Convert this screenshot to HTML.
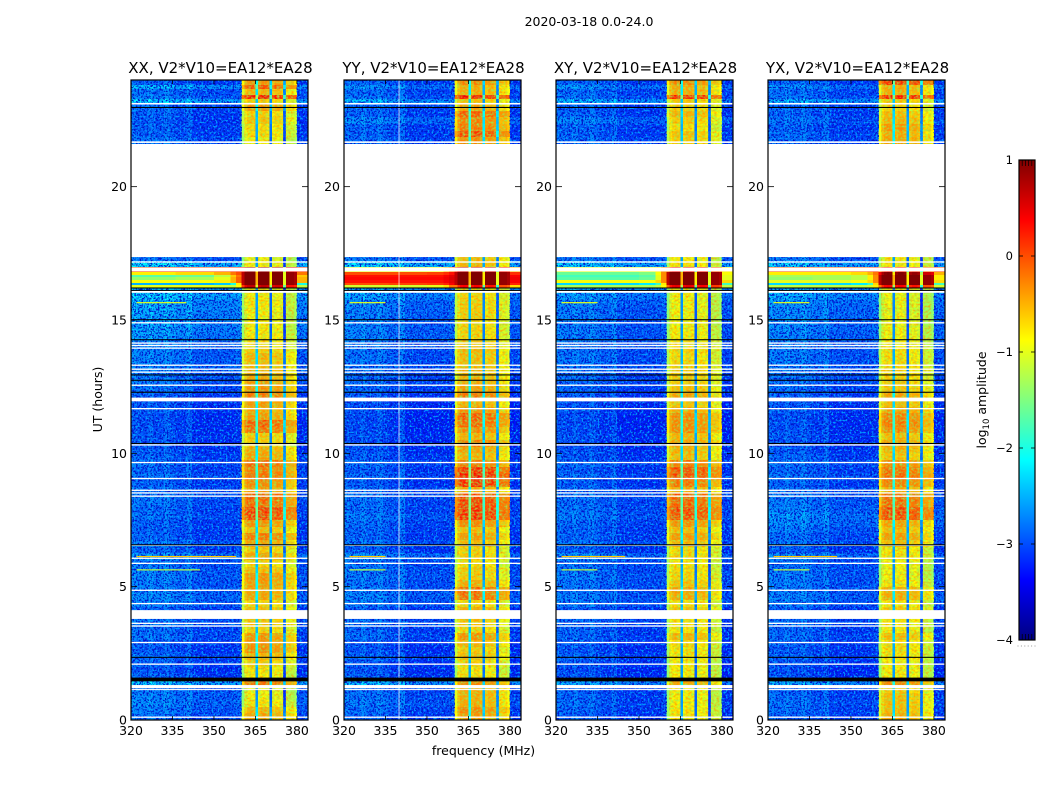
<!DOCTYPE html>
<html>
<head>
<meta charset="utf-8">
<title>2020-03-18 0.0-24.0</title>
<style>
html,body{margin:0;padding:0;background:#fff;}
svg{display:block;}
text{font-family:"DejaVu Sans","Liberation Sans",sans-serif;fill:#000;}
</style>
</head>
<body>
<svg id="chart" xmlns="http://www.w3.org/2000/svg" width="1050" height="800" viewBox="0 0 1050 800">
<defs>
<linearGradient id="jet-gradient" x1="0" y1="1" x2="0" y2="0"></linearGradient>
<filter id="speckle-dark" x="0" y="0" width="100%" height="100%" color-interpolation-filters="sRGB">
<feTurbulence type="fractalNoise" baseFrequency="0.55" numOctaves="2" seed="3"/>
<feColorMatrix values="0 0 0 0 0  0 0 0 0 0.08  0 0 0 0 0.8  7 0 0 0 -3.3"/>
</filter>
<filter id="speckle-light" x="0" y="0" width="100%" height="100%" color-interpolation-filters="sRGB">
<feTurbulence type="fractalNoise" baseFrequency="0.5" numOctaves="2" seed="11"/>
<feColorMatrix values="0 0 0 0 0  0 0 0 0 0.6  0 0 0 0 1  0 7 0 0 -3.8"/>
</filter>
<filter id="speckle-band-orange" x="0" y="0" width="100%" height="100%" color-interpolation-filters="sRGB">
<feTurbulence type="fractalNoise" baseFrequency="0.35 0.5" numOctaves="2" seed="5"/>
<feColorMatrix values="0 0 0 0 1  0 0 0 0 0.55  0 0 0 0 0  1.8 0 0 0 -0.7"/>
</filter>
<filter id="speckle-band-green" x="0" y="0" width="100%" height="100%" color-interpolation-filters="sRGB">
<feTurbulence type="fractalNoise" baseFrequency="0.35 0.5" numOctaves="2" seed="17"/>
<feColorMatrix values="0 0 0 0 0.55  0 0 0 0 1  0 0 0 0 0.35  1.8 0 0 0 -0.75"/>
</filter>
</defs>
<text x="589" y="26" text-anchor="middle" font-size="12.5">2020-03-18 0.0-24.0</text>
<text x="483.5" y="755" text-anchor="middle" font-size="12.5">frequency (MHz)</text>
<text x="0" y="0" text-anchor="middle" font-size="12.5" transform="translate(102,399.5) rotate(-90)">UT (hours)</text>
<g id="panels"></g>
<g id="colorbar"></g>
<text x="0" y="0" text-anchor="middle" font-size="12.5" transform="translate(986,400) rotate(-90)">log<tspan font-size="8.5" dy="3">10</tspan><tspan dy="-3"> amplitude</tspan></text>
</svg>
<script>
const hours = [
0,.25,.5,.75,1,1.25,1.5,1.75,2,2.25,2.5,2.75,3,3.25,3.5,3.75,
4,4.25,4.5,4.75,5,5.25,5.5,5.75,6,6.25,6.5,6.75,7,7.25,7.5,7.75,
8,8.25,8.5,8.75,9,9.25,9.5,9.75,10,10.25,10.5,10.75,11,11.25,11.5,11.75,
12,12.25,12.5,12.75,13,13.25,13.5,13.75,14,14.25,14.5,14.75,15,15.25,15.5,15.75,
16,16.2,16.3,16.4,16.5,16.6,16.7,16.8,17,17.2,
21.6,21.85,22.1,22.35,22.6,22.85,23.1,23.3,23.45,23.65,23.8];

const xxInBand = [
-.45,-.55,-.85,-.95,-1,-.15,-.9,-.85,-.7,-.55,-.3,-.35,-.35,-.75,-.65,-.6,
-.6,-.75,-.45,-.45,-.4,-.35,-.6,-.75,-.45,-.7,-.45,-.2,-.6,-.35,.1,.15,
-.1,-.05,-.4,-.3,-.15,-.2,-.1,-.45,-.5,-.7,-.7,-.15,-.05,-.4,-.5,-.4,
-.2,-.35,-.4,-.5,-.55,-.6,-.55,-.7,-.8,-.85,-.9,-.9,-.95,-.9,-.85,-.9,
-.9,.6,1.2,1.2,1.2,1.2,1.2,.8,-.9,-1,
-.9,-.8,-.8,-.65,-.75,-.4,-.7,.3,-.55,0,-.35];
const yyInBand = [
-.4,-.3,-.5,-.5,-.5,-.3,-.8,-.85,-.75,-.6,-.7,-.55,-.35,-.75,-.65,-.6,
-.5,-.75,-.15,-.1,-.5,-.7,-.7,-.8,-.7,-.75,-.6,-.4,-.6,-.3,.2,.2,
.15,.1,-.5,.2,.3,.2,-.2,-.55,-.45,-.25,-.55,-.3,-.1,-.05,-.35,-.55,
-.2,-.4,-.5,-.55,-.55,-.6,-.6,-.55,-.65,-.75,-.75,-.75,-.7,-.7,-.7,-.75,
-.8,.3,1.2,1.2,1.2,1.2,1.2,.6,-.55,-.6,
-.3,.05,-.2,-.25,-.05,-.45,-.65,.3,-.5,-.5,-.3];
const xyInBand = [
-.85,-.85,-.9,-.9,-.9,-.5,-.9,-.9,-.9,-.85,-.85,-.8,-.55,-.85,-.8,-.8,
-.65,-.8,-.5,-.45,-.65,-.75,-.8,-.85,-.75,-.8,-.6,-.4,-.6,-.35,.05,.1,
-.05,-.05,-.5,-.2,.05,.05,-.2,-.6,-.55,-.45,-.55,-.3,-.3,-.3,-.5,-.65,
-.45,-.6,-.7,-.7,-.7,-.75,-.8,-.75,-.8,-.9,-.9,-.95,-.95,-.95,-.95,-.95,
-.9,.4,1.2,1.2,1.2,1.2,1.2,.3,-.85,-.9,
-.7,-.65,-.8,-.7,-.55,-.7,-.7,.2,-.5,-.5,-.3];
const yxInBand = [
-.5,-.6,-.6,-.6,-.7,-.3,-.9,-.9,-.9,-.85,-.8,-.8,-.6,-.9,-.85,-.8,
-.7,-.85,-.5,-.5,-.85,-.95,-.95,-.95,-.8,-.85,-.6,-.4,-.6,-.45,.1,.1,
-.1,-.1,-.5,-.25,-.1,-.15,-.3,-.65,-.55,-.45,-.6,-.3,-.2,-.25,-.45,-.6,
-.45,-.65,-.7,-.75,-.75,-.8,-.8,-.8,-.9,-.95,-.95,-1,-1,-1.05,-1,-1,
-.95,.3,1.2,1.2,1.2,1.2,.9,.2,-.85,-.9,
-.45,-.5,-.4,-.55,-.6,-.75,-.7,.25,-.5,-.5,.15];

const xxOffBand = [
-2.9,-2.85,-2.75,-2.8,-2.85,-2.4,-3,-3.1,-3,-2.95,-3.05,-3,-2.9,-2.95,-2.85,-2.9,
-3,-2.8,-2.75,-2.8,-2.85,-2.8,-2.85,-2.85,-2.7,-3,-2.85,-3,-3,-3,-2.9,-2.95,
-2.9,-2.85,-2.9,-3,-2.9,-3,-2.9,-3,-3.05,-3.1,-3.05,-3.1,-3.1,-3.1,-3.05,-3.05,
-3,-2.9,-2.85,-2.85,-2.8,-2.8,-2.8,-2.8,-2.75,-2.65,-2.6,-2.6,-2.6,-2.55,-2.55,-2.4,
-2.4,-2.4,-2.4,-2.4,-2.4,-2.4,-2.4,-2.4,-2.3,-2.9,
-2.9,-3,-3,-3.05,-3,-2.95,-2.4,-2.85,-2.9,-2.5,-3];
const yyOffBand = [
-3,-2.95,-2.85,-2.9,-2.95,-2.5,-3.05,-3.1,-3.05,-3,-3.1,-3.05,-2.95,-3,-2.9,-2.95,
-3.05,-2.85,-2.8,-2.85,-2.9,-2.85,-2.9,-2.9,-2.75,-3.05,-2.9,-3,-3,-2.95,-2.85,-2.95,
-2.95,-2.9,-2.95,-3.05,-2.95,-3.05,-2.95,-3.05,-3.1,-3.15,-3.1,-3.15,-3.15,-3.15,-3.1,-3.1,
-3.05,-3,-2.95,-2.95,-2.9,-2.9,-2.9,-2.9,-2.85,-2.8,-2.8,-2.8,-2.8,-2.8,-2.75,-2.6,
-2.5,-2.5,-2.5,-2.5,-2.5,-2.5,-2.5,-2.5,-2.3,-2.85,
-2.95,-3,-3,-2.75,-3,-2.95,-2.5,-2.9,-2.95,-2.7,-3];
const xyOffBand = [
-3.05,-3,-2.95,-3,-3,-2.6,-3.1,-3.15,-3.05,-3,-3.1,-3.05,-3,-3,-2.95,-2.95,
-3.05,-2.85,-2.85,-2.9,-2.9,-2.85,-2.9,-2.9,-2.75,-3.05,-2.9,-3,-3,-2.95,-2.85,-2.9,
-2.95,-2.9,-2.95,-3.05,-2.95,-3.05,-2.95,-3.05,-3.1,-3.15,-3.1,-3.15,-3.15,-3.15,-3.1,-3.1,
-3.05,-3,-2.95,-2.95,-2.9,-2.9,-2.9,-2.9,-2.85,-2.85,-2.85,-2.85,-2.85,-2.85,-2.8,-2.65,
-2.5,-2.5,-2.5,-2.5,-2.5,-2.5,-2.5,-2.5,-2.4,-2.85,
-2.95,-3,-3,-2.8,-3,-3,-2.5,-2.9,-2.95,-2.7,-3];
const yxOffBand = [
-3,-2.95,-2.9,-2.95,-3,-2.55,-3.1,-3.15,-3.05,-3,-3.05,-3,-2.95,-3,-2.9,-2.95,
-3.05,-2.85,-2.8,-2.85,-2.85,-2.85,-2.9,-2.9,-2.75,-3.05,-2.9,-2.95,-2.85,-2.75,-2.7,-2.8,
-2.85,-2.85,-2.9,-3,-2.9,-3,-2.9,-3,-3.05,-3.1,-3.05,-3.1,-3.1,-3.1,-3.05,-3.05,
-3,-2.95,-2.9,-2.9,-2.85,-2.85,-2.85,-2.85,-2.8,-2.8,-2.75,-2.75,-2.75,-2.75,-2.7,-2.55,
-2.5,-2.5,-2.5,-2.5,-2.5,-2.5,-2.5,-2.5,-2.4,-2.85,
-2.95,-2.95,-3,-2.9,-3,-2.95,-2.5,-2.9,-2.95,-2.7,-3];

const freqEdges = [
320,322,324,326,328,330,332,334,336,338,340,342,344,346,348,350,352,354,356,358,
360,361,362,363,364,365,366,367,368,369,370,371,372,373,374,375,376,377,378,379,
380,382,384];
const channelOffsets = [
.2,.15,.1,.25,.1,.1,.25,.1,0,0,.2,-.1,-.1,-.1,-.1,-.1,-.1,-.1,-.1,-.05,
-.5,-.1,.05,.1,.05,-1.7,0,.1,.1,0,-2,-.1,0,0,-.1,-2.2,-.3,-.3,-.3,-.4,
-.15,-.1];

const flareHours = [16.2,16.3,16.4,16.5,16.6,16.7,16.8];
const flareFreqs = [320,335,350,355,358];
const xxFlare = [[-1,-1,-1.1,-1.2,-.9],[-2.5,-2.5,-2.4,-2,-.8],[-.9,-.9,-.8,-.5,-.1],[-1.4,-1.3,-1,-.5,-.1],[-1.7,-1.6,-1.2,-.6,-.2],[-.8,-.7,-.5,-.2,0],[0,0,0,.1,.2]];
const yyFlare = [[-1.1,-1.1,-1,-.7,-.2],[0,.05,.1,.2,.4],[.3,.3,.3,.4,.5],[.35,.35,.35,.45,.55],[.3,.3,.3,.4,.5],[0,0,.05,.15,.3],[-1,-1,-.9,-.5,-.2]];
const xyFlare = [[-1.3,-1.3,-1.3,-1.2,-.9],[-2.3,-2.3,-2.2,-1.8,-.8],[-.9,-.9,-.9,-.7,-.3],[-1.7,-1.7,-1.6,-1,-.3],[-1.8,-1.8,-1.7,-1,-.3],[-1.6,-1.6,-1.5,-.9,-.3],[-1,-1,-1,-.8,-.3]];
const yxFlare = [[-1.2,-1.2,-1.2,-1.1,-.8],[-2.3,-2.3,-2.2,-1.8,-.7],[-1,-1,-.9,-.7,-.3],[-1.4,-1.3,-1.2,-.8,-.3],[-1.3,-1.3,-1.2,-.8,-.3],[-.8,-.8,-.7,-.5,-.2],[-.1,-.1,-.1,0,.1]];

const rfiHours = [15.65,6.13,5.63];
const rfiLevels = [-1,-.6,-1.2];
const xxRfiEnd = [340,358,345];
const yyRfiEnd = [335,335,335];
const xyRfiEnd = [335,345,335];
const yxRfiEnd = [335,345,335];

const whiteStarts = [.08,1.12,1.19,2.07,2.88,3.5,3.6,3.79,4.34,4.84,5.85,6.04,6.53,8.37,8.49,8.59,9.03,9.63,10.29,11.65,11.95,12.53,13.02,13.13,13.28,13.92,14.02,14.11,14.87,16.02,16.82,17.15,17.36,21.64,23.08];
const whiteWidths = [.05,.04,.12,.05,.05,.05,.05,.33,.05,.05,.05,.05,.05,.05,.05,.05,.05,.05,.05,.05,.14,.05,.05,.05,.05,.05,.05,.05,.05,.08,.15,.05,4.24,.06,.06];
const blackStarts = [1.45,2.33,6.55,10.35,12.27,12.72,12.92,14.24,14.99,16.09,16.18,22.95];
const blackWidths = [.14,.04,.04,.04,.04,.04,.04,.04,.04,.04,.04,.04];

const panelTitles = ["XX, V2*V10=EA12*EA28","YY, V2*V10=EA12*EA28","XY, V2*V10=EA12*EA28","YX, V2*V10=EA12*EA28"];
const panelKeys = ["xx","yy","xy","yx"];
const freqTicks = [320,335,350,365,380];
const hourTicks = [0,5,10,15,20];
const colorbarTicks = [1,0,-1,-2,-3,-4];
const paleLineFreqs = {xx:[],yy:[339.9],xy:[],yx:[]};

const inBandByPanel = {xx:xxInBand,yy:yyInBand,xy:xyInBand,yx:yxInBand};
const offBandByPanel = {xx:xxOffBand,yy:yyOffBand,xy:xyOffBand,yx:yxOffBand};
const flareByPanel = {xx:xxFlare,yy:yyFlare,xy:xyFlare,yx:yxFlare};
const rfiEndByPanel = {xx:xxRfiEnd,yy:yyRfiEnd,xy:xyRfiEnd,yx:yxRfiEnd};

const PANEL_LEFTS = [131,344,556,768], PANEL_W = 177, TOP = 80, BOTTOM = 720;
const NS = "http://www.w3.org/2000/svg";
const clamp = v => Math.max(0, Math.min(1, v));
function jet(v){
  const x = clamp((v + 4) / 5);
  const r = clamp(Math.min(4*x - 1.5, -4*x + 4.5));
  const g = clamp(Math.min(4*x - .5, -4*x + 3.5));
  const b = clamp(Math.min(4*x + .5, -4*x + 2.5));
  return "rgb(" + Math.round(r*255) + "," + Math.round(g*255) + "," + Math.round(b*255) + ")";
}
const yScale = h => BOTTOM - h / 24 * (BOTTOM - TOP);
const xScale = (left, f) => left + (f - 320) / 64 * PANEL_W;
function shape(parent, tag, attrs){
  const el = document.createElementNS(NS, tag);
  for (const k in attrs) el.setAttribute(k, attrs[k]);
  parent.appendChild(el);
  return el;
}
function cellLevel(key, row, chan){
  const f = freqEdges[chan];
  if (f >= 360 && f < 380) return inBandByPanel[key][row] + channelOffsets[chan];
  const k = flareHours.indexOf(hours[row]);
  if (k >= 0) {
    let c = 0;
    for (let i = 0; i < flareFreqs.length; i++) if (f >= flareFreqs[i]) c = i;
    if (f >= 380) c = 3;
    return flareByPanel[key][k][c];
  }
  return offBandByPanel[key][row] + channelOffsets[chan];
}
function drawRow(g, key, left, r){
  const y0 = Math.round(yScale(r + 1 < hours.length ? hours[r + 1] : 24));
  const y1 = Math.round(yScale(hours[r]));
  for (let c = 0; c < freqEdges.length - 1; c++) {
    const x0 = xScale(left, freqEdges[c]);
    const x1 = xScale(left, freqEdges[c + 1]);
    const cell = shape(g, "rect", {x:x0.toFixed(2), y:y0, width:(x1 - x0 + .3).toFixed(2), height:y1 - y0, fill:jet(cellLevel(key, r, c)), "shape-rendering":"crispEdges"});
    
    
  }
}

const panelsRoot = document.getElementById("panels");
panelKeys.forEach(function(key, p){
  const left = PANEL_LEFTS[p];
  const g = shape(panelsRoot, "g", {});
  
  

  for (let r = 0; r < hours.length; r++) {
    if (flareHours.indexOf(hours[r]) < 0) drawRow(g, key, left, r);
  }

  [[320,360],[380,384]].forEach(function(span){
    ["speckle-dark","speckle-light"].forEach(function(fid){
      const t = shape(g, "rect", {x:xScale(left, span[0]), y:TOP, width:xScale(left, span[1]) - xScale(left, span[0]), height:BOTTOM - TOP, filter:"url(#" + fid + ")"});
      
      
    });
  });
  [[361,365],[366,370],[371,375],[376,379]].forEach(function(span){
    ["speckle-band-orange","speckle-band-green"].forEach(function(fid){
      const t = shape(g, "rect", {x:xScale(left, span[0]), y:TOP, width:xScale(left, span[1]) - xScale(left, span[0]), height:BOTTOM - TOP, filter:"url(#" + fid + ")"});
      
      
    });
  });

  for (let r = 0; r < hours.length; r++) {
    if (flareHours.indexOf(hours[r]) >= 0) drawRow(g, key, left, r);
  }

  rfiHours.forEach(function(h, i){
    const line = shape(g, "rect", {x:xScale(left, 322), y:yScale(h) - .6, width:xScale(left, rfiEndByPanel[key][i]) - xScale(left, 322), height:1.2, fill:jet(rfiLevels[i])});
    
    
  });

  paleLineFreqs[key].forEach(function(f){
    const line = shape(g, "rect", {x:xScale(left, f) - .6, y:TOP, width:1.2, height:BOTTOM - TOP, fill:"#fff", opacity:.6});
    
    
  });

  whiteStarts.forEach(function(h, i){
    const gap = shape(g, "rect", {x:left, y:yScale(h + whiteWidths[i]), width:PANEL_W, height:whiteWidths[i] / 24 * (BOTTOM - TOP), fill:"#fff"});
    
    
  });
  blackStarts.forEach(function(h, i){
    const line = shape(g, "rect", {x:left, y:yScale(h + blackWidths[i]), width:PANEL_W, height:blackWidths[i] / 24 * (BOTTOM - TOP), fill:"#000"});
    
    
  });

  const frame = shape(g, "rect", {x:left, y:TOP, width:PANEL_W, height:BOTTOM - TOP, fill:"none", stroke:"#000", "stroke-width":1.2});
  
  

  freqTicks.forEach(function(f){
    const x = xScale(left, f);
    [[BOTTOM, BOTTOM - 4],[TOP, TOP + 4]].forEach(function(e){
      const tick = shape(g, "line", {x1:x, x2:x, y1:e[0], y2:e[1], stroke:"#000", "stroke-width":.8});
      
      
    });
    const label = shape(g, "text", {x:x, y:735, "text-anchor":"middle", "font-size":12.5});
    label.textContent = f;
    
    
  });
  hourTicks.forEach(function(h){
    const y = yScale(h);
    [[left, left + 6],[left + PANEL_W, left + PANEL_W - 6]].forEach(function(e){
      const tick = shape(g, "line", {x1:e[0], x2:e[1], y1:y, y2:y, stroke:"#000", "stroke-width":.8});
      
      
    });
    const label = shape(g, "text", {x:left - 4, y:y + 4.5, "text-anchor":"end", "font-size":12.5});
    label.textContent = h;
    
    
  });

  const title = shape(g, "text", {x:left + PANEL_W / 2 + 1, y:73, "text-anchor":"middle", "font-size":15});
  title.textContent = panelTitles[p];
  
  
});

const grad = document.getElementById("jet-gradient");
for (let i = 0; i <= 8; i++) {
  shape(grad, "stop", {offset:(i / 8), "stop-color":jet(-4 + 5 * i / 8)});
}
const cb = document.getElementById("colorbar");
const CB_L = 1019, CB_R = 1035, CB_T = 160, CB_B = 640;
const cbY = v => CB_B - (v + 4) / 5 * (CB_B - CB_T);
const cbBody = shape(cb, "rect", {x:CB_L, y:CB_T, width:CB_R - CB_L, height:CB_B - CB_T, fill:"url(#jet-gradient)", stroke:"#000", "stroke-width":1.2});


colorbarTicks.forEach(function(v){
  const y = cbY(v);
  [[CB_L, CB_L + 4],[CB_R, CB_R - 4]].forEach(function(e){
    const tick = shape(cb, "line", {x1:e[0], x2:e[1], y1:y, y2:y, stroke:"#000", "stroke-width":.8});
    
    
  });
  const label = shape(cb, "text", {x:1013, y:y + 4, "text-anchor":"end", "font-size":11.5});
  label.textContent = v < 0 ? "\u2212" + Math.abs(v) : v;
  
  
});
for (let i = 1; i <= 4; i++) {
  const x = CB_L + i * (CB_R - CB_L) / 5;
  [[CB_T, CB_T + 6],[CB_B, CB_B - 6]].forEach(function(e){
    const tick = shape(cb, "line", {x1:x, x2:x, y1:e[0], y2:e[1], stroke:"#000", "stroke-width":.7});
    
    
  });
}
for (let i = 0; i < 6; i++) {
  const dot = shape(cb, "rect", {x:1017.5 + i * 3.4, y:645.5, width:1, height:1, fill:"#999"});
  
  
}
</script>
</body>
</html>
